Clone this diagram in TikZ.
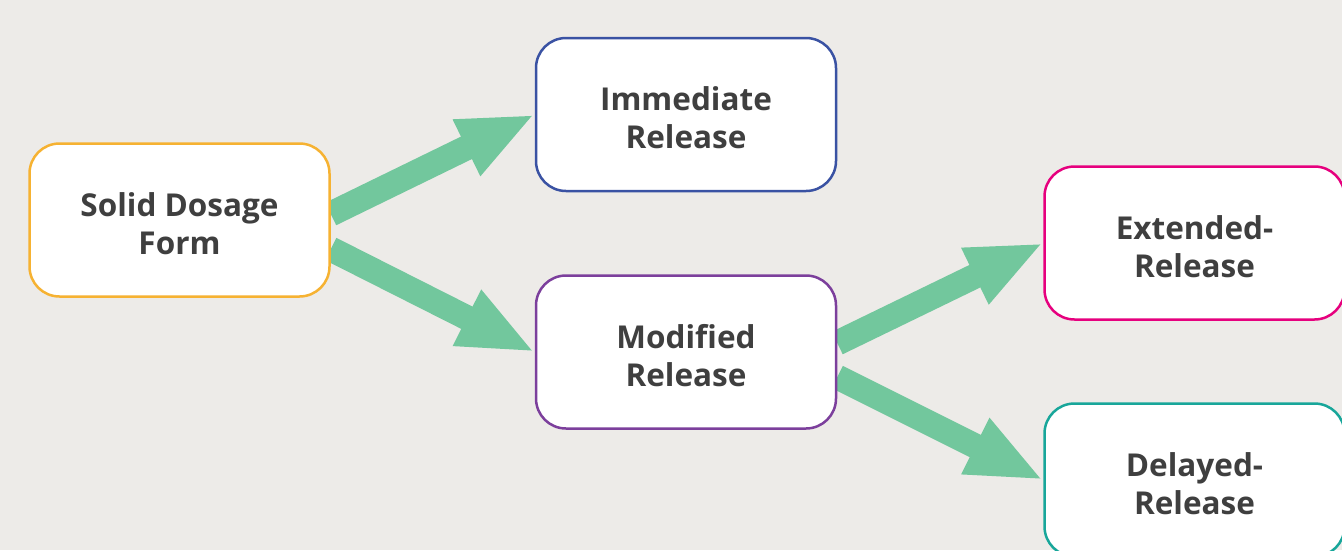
\documentclass[tikz,border=0pt]{standalone}
\usepackage{fontspec}
\setmainfont{Open Sans}
\usetikzlibrary{arrows.meta,backgrounds}
\definecolor{bg}{HTML}{EDEBE8}
\definecolor{grn}{HTML}{72C79D}
\definecolor{txt}{HTML}{3F3F3F}
\definecolor{orng}{HTML}{F6B232}
\definecolor{blu}{HTML}{3A52A3}
\definecolor{purp}{HTML}{7C3F9C}
\definecolor{mag}{HTML}{E6007E}
\definecolor{teal}{HTML}{18A69A}
\begin{document}
\begin{tikzpicture}[x=1pt,y=-1pt,
 box/.style={draw, line width=2.5pt, fill=white, rounded corners=30pt,
   minimum width=300pt, minimum height=153pt, align=center, inner sep=0pt,
   font=\fontsize{31.5}{38}\selectfont\bfseries, text=txt},
 lbl/.style={align=center, inner sep=0pt, font=\fontsize{31.5}{38}\selectfont\bfseries, text=txt},
 flow/.style={draw=grn, line width=25pt, -{Triangle[length=76pt,width=57pt]}}]
\useasboundingbox (0,0) rectangle (1342,550);
\clip (0,0) rectangle (1342,550);
\node[box, draw=orng] (solid) at (179.5,220) {};
\node[box, draw=blu] (imm) at (686,114.5) {};
\node[box, draw=purp] (mod) at (686,352) {};
\node[box, draw=mag] (ext) at (1194.5,243) {};
\node[box, draw=teal] (del) at (1194.5,480) {};
\node[lbl] (tsolid) at ([yshift=-4pt]solid.center) {Solid Dosage\\Form};
\node[lbl] (timm) at ([yshift=-3pt]imm.center) {Immediate\\Release};
\node[lbl] (tmod) at ([yshift=-4pt]mod.center) {Modified\\Release};
\node[lbl] (text) at ([yshift=-4pt]ext.center) {Extended-\\Release};
\node[lbl] (tdel) at ([yshift=-4pt]del.center) {Delayed-\\Release};
\begin{pgfonlayer}{background}
\fill[bg] (0,0) rectangle (1342,550);
\draw[flow] ([yshift=6pt]solid.east) -- (imm.west);
\draw[flow] ([yshift=-29pt]solid.east) -- (mod.west);
\draw[flow] ([yshift=9pt]mod.east) -- (ext.west);
\draw[flow] ([yshift=-25pt]mod.east) -- (del.west);
\end{pgfonlayer}
\end{tikzpicture}
\end{document}
